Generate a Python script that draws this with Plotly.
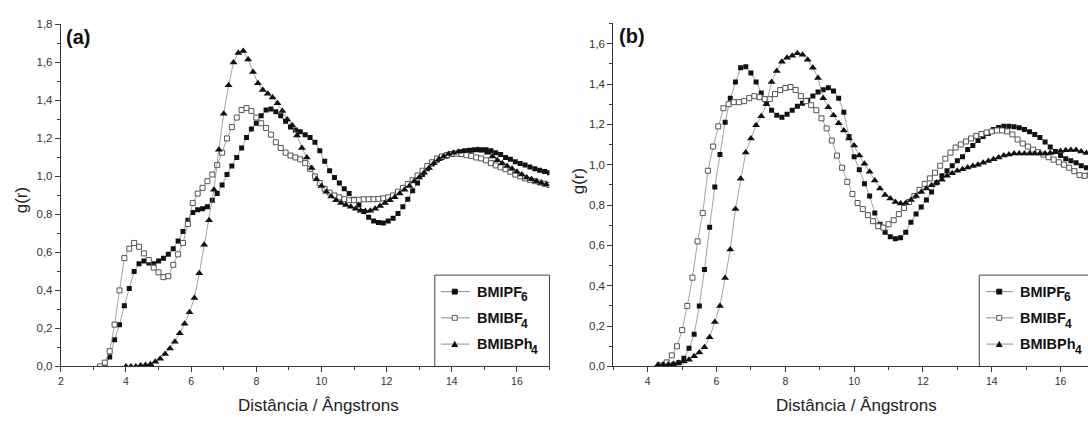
import numpy as np
import plotly.graph_objects as go

W, H = 1088, 421
STEP = 0.15  # radial sampling of the g(r) curves, in Å

# ---------------- panel (a) ----------------
a_pf6_r0 = 3.35
a_pf6 = [
    0.00, 0.05, 0.14, 0.22, 0.32, 0.41, 0.50, 0.54, 0.555, 0.545,
    0.54, 0.555, 0.57, 0.59, 0.62, 0.66, 0.71, 0.77, 0.81, 0.825,
    0.83, 0.84, 0.875, 0.91, 0.955, 1.01, 1.055, 1.10, 1.15, 1.205,
    1.25, 1.28, 1.32, 1.35, 1.355, 1.34, 1.32, 1.29, 1.26, 1.245,
    1.235, 1.22, 1.205, 1.18, 1.135, 1.08, 1.03, 0.995, 0.965, 0.935,
    0.91, 0.88, 0.85, 0.815, 0.785, 0.765, 0.757, 0.755, 0.765, 0.78,
    0.805, 0.84, 0.88, 0.925, 0.965, 1.01, 1.04, 1.065, 1.085, 1.10,
    1.108, 1.115, 1.122, 1.13, 1.135, 1.138, 1.14, 1.14, 1.14, 1.135,
    1.125, 1.115, 1.10, 1.09, 1.078, 1.068, 1.06, 1.05, 1.04, 1.033,
    1.026, 1.02,
]
a_bf4_r0 = 3.20
a_bf4 = [
    0.00, 0.02, 0.08, 0.22, 0.40, 0.57, 0.62, 0.65, 0.63, 0.595,
    0.56, 0.52, 0.495, 0.47, 0.475, 0.535, 0.59, 0.65, 0.75, 0.86,
    0.91, 0.94, 0.975, 1.01, 1.06, 1.125, 1.20, 1.26, 1.31, 1.35,
    1.36, 1.345, 1.31, 1.28, 1.255, 1.22, 1.18, 1.15, 1.125, 1.11,
    1.10, 1.09, 1.07, 1.04, 1.00, 0.965, 0.935, 0.915, 0.90, 0.89,
    0.88, 0.875, 0.875, 0.877, 0.88, 0.88, 0.88, 0.882, 0.885, 0.89,
    0.90, 0.92, 0.94, 0.96, 0.98, 1.005, 1.03, 1.055, 1.075, 1.095,
    1.105, 1.113, 1.118, 1.12, 1.118, 1.112, 1.108, 1.10, 1.095, 1.085,
    1.07, 1.058, 1.048, 1.038, 1.025, 1.01, 1.0, 0.99, 0.982, 0.975,
    0.968, 0.962, 0.955,
]
a_ph4_r0 = 4.00
a_ph4 = [
    0.0, 0.0, 0.0, 0.005, 0.008, 0.012, 0.025, 0.04, 0.065, 0.095,
    0.13, 0.175, 0.225, 0.285, 0.36, 0.49, 0.64, 0.77, 0.93, 1.14,
    1.33, 1.48, 1.60, 1.65, 1.66, 1.615, 1.55, 1.49, 1.455, 1.435,
    1.415, 1.385, 1.345, 1.30, 1.27, 1.215, 1.15, 1.10, 1.045, 0.985,
    0.95, 0.92, 0.895, 0.875, 0.86, 0.85, 0.84, 0.83, 0.82, 0.818,
    0.82, 0.83, 0.845, 0.86, 0.875, 0.89, 0.91, 0.93, 0.95, 0.975,
    0.995, 1.02, 1.045, 1.07, 1.09, 1.105, 1.118, 1.125, 1.13, 1.133,
    1.135, 1.138, 1.14, 1.135, 1.125, 1.105, 1.085, 1.07, 1.055, 1.04,
    1.025, 1.01, 0.995, 0.985, 0.975, 0.965, 0.958,
]

# ---------------- panel (b) ----------------
b_pf6_r0 = 4.60
b_pf6 = [
    0.003, 0.008, 0.018, 0.04, 0.09, 0.16, 0.30, 0.48, 0.69, 0.89,
    1.05, 1.21, 1.33, 1.41, 1.48, 1.485, 1.455, 1.41, 1.355, 1.305,
    1.27, 1.245, 1.235, 1.25, 1.27, 1.29, 1.305, 1.32, 1.34, 1.36,
    1.372, 1.382, 1.365, 1.33, 1.26, 1.14, 1.04, 0.975, 0.905, 0.845,
    0.76, 0.705, 0.665, 0.643, 0.633, 0.638, 0.665, 0.715, 0.755, 0.79,
    0.825, 0.865, 0.91, 0.945, 0.97, 0.995, 1.02, 1.04, 1.075, 1.095,
    1.12, 1.14, 1.155, 1.175, 1.185, 1.19, 1.19, 1.188, 1.183, 1.175,
    1.163, 1.15, 1.135, 1.113, 1.088, 1.065, 1.045, 1.03, 1.02, 1.01,
    0.995, 0.985, 0.975,
]
b_bf4_r0 = 4.40
b_bf4 = [
    0.005, 0.02, 0.055, 0.10, 0.18, 0.30, 0.44, 0.62, 0.76, 0.97,
    1.09, 1.19, 1.28, 1.30, 1.31, 1.31, 1.315, 1.33, 1.34, 1.335,
    1.325, 1.325, 1.35, 1.37, 1.38, 1.385, 1.37, 1.34, 1.315, 1.295,
    1.27, 1.23, 1.18, 1.12, 1.045, 0.985, 0.915, 0.855, 0.81, 0.78,
    0.75, 0.72, 0.695, 0.688, 0.705, 0.725, 0.755, 0.785, 0.815, 0.845,
    0.875, 0.905, 0.932, 0.96, 0.995, 1.03, 1.06, 1.085, 1.10, 1.115,
    1.13, 1.143, 1.152, 1.16, 1.165, 1.17, 1.17, 1.165, 1.15, 1.125,
    1.105, 1.09, 1.075, 1.062, 1.05, 1.037, 1.025, 1.012, 1.0, 0.985,
    0.968, 0.948, 0.945, 0.95,
]
b_ph4_r0 = 4.30
b_ph4 = [
    0.008, 0.01, 0.01, 0.013, 0.018, 0.024, 0.033, 0.05, 0.069, 0.095,
    0.145, 0.22, 0.30, 0.438, 0.58, 0.78, 0.93, 1.06, 1.13, 1.195,
    1.24, 1.30, 1.41, 1.465, 1.51, 1.53, 1.54, 1.552, 1.545, 1.52,
    1.48, 1.43, 1.33, 1.285, 1.245, 1.205, 1.17, 1.13, 1.095, 1.045,
    1.005, 0.965, 0.922, 0.882, 0.85, 0.832, 0.815, 0.808, 0.81, 0.825,
    0.845, 0.865, 0.882, 0.898, 0.912, 0.925, 0.945, 0.958, 0.97, 0.978,
    0.986, 0.993, 1.0, 1.01, 1.018, 1.027, 1.036, 1.045, 1.05, 1.055,
    1.056, 1.056, 1.056, 1.056, 1.056, 1.056, 1.058, 1.063, 1.068, 1.072,
    1.073, 1.073, 1.066, 1.058, 1.05,
]

# legend labels: base formula and subscript
series_base = ["BMIPF", "BMIBF", "BMIBPh"]
series_sub = ["6", "4", "4"]
x_title = "Distância / Ângstrons"
y_title = "g(r)"
panel_tags = ["(a)", "(b)"]

FONT = "Liberation Sans, Arial, sans-serif"
INK = "#222222"
AXIS = "#3a3a3a"
LINK = "#8c8c8c"

marker_styles = [
    dict(symbol="square", size=5, color="#111111", line=dict(width=0)),
    dict(symbol="square", size=5, color="white", line=dict(color="#555555", width=1)),
    dict(symbol="triangle-up", size=7, color="#111111", line=dict(width=0)),
]


def r_grid(r0, values):
    return np.round(r0 + STEP * np.arange(len(values)), 3)


panels = [
    ("x", "y", [(a_pf6_r0, a_pf6), (a_bf4_r0, a_bf4), (a_ph4_r0, a_ph4)]),
    ("x2", "y2", [(b_pf6_r0, b_pf6), (b_bf4_r0, b_bf4), (b_ph4_r0, b_ph4)]),
]

fig = go.Figure()
for xa, ya, data in panels:
    for (r0, vals), mstyle, base, sub in zip(data, marker_styles, series_base, series_sub):
        fig.add_trace(go.Scatter(
            x=r_grid(r0, vals), y=vals, xaxis=xa, yaxis=ya,
            mode="lines+markers", name=base + sub, showlegend=False,
            line=dict(color=LINK, width=0.8), marker=mstyle,
        ))


# pixel helpers for paper-positioned decorations
def px(x):
    return x / W


def py(y):
    return 1 - y / H


axis_common = dict(
    showline=True, linecolor=AXIS, linewidth=1, mirror=False,
    ticks="outside", ticklen=5, tickwidth=1, tickcolor=AXIS,
    showgrid=False, zeroline=False,
)
xtick_font = dict(family=FONT, size=10.5, color="#333333")
ytick_font = dict(family=FONT, size=11.5, color="#333333")

fig.update_layout(
    width=W, height=H,
    margin=dict(l=0, r=0, t=0, b=0),
    paper_bgcolor="white", plot_bgcolor="white",
    separators=",.",
    font=dict(family=FONT, color=INK),
    xaxis=dict(domain=[px(58), px(548)], range=[2, 17], tick0=2, dtick=2,
               minor=dict(ticks="outside", ticklen=3, tickcolor=AXIS, dtick=1),
               tickfont=xtick_font, anchor="y", **axis_common),
    yaxis=dict(domain=[py(371), py(19)], range=[0, 1.8], tick0=0, dtick=0.2,
               tickformat=".1f",
               minor=dict(ticks="outside", ticklen=3, tickcolor=AXIS, dtick=0.1),
               tickfont=ytick_font, anchor="x", **axis_common),
    xaxis2=dict(domain=[px(612), 1.0], range=[3, 3 + (W - 612) / 34.5], tick0=0, dtick=2,
                minor=dict(ticks="outside", ticklen=3, tickcolor=AXIS, dtick=1),
                tickfont=xtick_font, anchor="y2", **axis_common),
    yaxis2=dict(domain=[py(371), py(18)], range=[0, 1.7], tick0=0, dtick=0.2,
                tickformat=".1f",
                minor=dict(ticks="outside", ticklen=3, tickcolor=AXIS, dtick=0.1),
                tickfont=ytick_font, anchor="x2", **axis_common),
)

annotations = []
shapes = []

# axis titles and panel tags
for cx, cy in [(316, 411), (856, 411)]:
    annotations.append(dict(x=px(cx), y=py(cy), xref="paper", yref="paper", text=x_title,
                            showarrow=False, xanchor="center", yanchor="middle",
                            font=dict(family=FONT, size=17, color=INK)))
for cx, cy in [(18, 200), (577, 180)]:
    annotations.append(dict(x=px(cx), y=py(cy), xref="paper", yref="paper", text=y_title,
                            textangle=-90, showarrow=False, xanchor="center", yanchor="middle",
                            font=dict(family=FONT, size=17, color=INK)))
for tag, lx, ly in [(panel_tags[0], 61, 32), (panel_tags[1], 616, 31)]:
    annotations.append(dict(x=px(lx), y=py(ly), xref="paper", yref="paper",
                            text="<b>" + tag + "</b>", showarrow=False,
                            xanchor="left", yanchor="middle",
                            font=dict(family=FONT, size=20, color="#111111")))

# framed legends inside each panel
legend_boxes = [
    dict(box=(433, 277, 548, 371), line=(439, 468), mark=453, text=473),
    dict(box=(979, 277, 1100, 371), line=(986, 1013), mark=999, text=1018),
]
row_y = [294, 321, 348]
# approximate advance widths (em) of Arial Bold glyphs used in the legend
bold_em = {"B": 0.722, "M": 0.833, "I": 0.278, "P": 0.667, "F": 0.611, "h": 0.611}
LEG_SIZE = 14.5
SUB_SIZE = 12
for lg in legend_boxes:
    x0, y0, x1, y1 = lg["box"]
    shapes.append(dict(type="rect", xref="paper", yref="paper",
                       x0=px(x0), y0=py(y1), x1=px(x1), y1=py(y0),
                       line=dict(color="#444444", width=1), fillcolor="white", layer="below"))
    for k, (ry, base, sub) in enumerate(zip(row_y, series_base, series_sub)):
        shapes.append(dict(type="line", xref="paper", yref="paper",
                           x0=px(lg["line"][0]), x1=px(lg["line"][1]), y0=py(ry), y1=py(ry),
                           line=dict(color=LINK, width=1)))
        mx = lg["mark"]
        if k == 2:
            path = "M {} {} L {} {} L {} {} Z".format(
                px(mx - 3.5), py(ry + 3), px(mx + 3.5), py(ry + 3), px(mx), py(ry - 3.5))
            shapes.append(dict(type="path", xref="paper", yref="paper", path=path,
                               fillcolor="#111111", line=dict(width=0)))
        else:
            filled = k == 0
            shapes.append(dict(type="rect", xref="paper", yref="paper",
                               x0=px(mx - 2.5), x1=px(mx + 2.5), y0=py(ry + 2.5), y1=py(ry - 2.5),
                               fillcolor="#111111" if filled else "white",
                               line=dict(color="#111111" if filled else "#555555", width=1)))
        tx = lg["text"]
        annotations.append(dict(x=px(tx), y=py(ry), xref="paper", yref="paper",
                                text="<b>" + base + "</b>", showarrow=False,
                                xanchor="left", yanchor="middle",
                                font=dict(family=FONT, size=LEG_SIZE, color="#111111")))
        base_w = sum(bold_em[c] for c in base) * LEG_SIZE
        annotations.append(dict(x=px(tx + base_w - 1), y=py(ry + 6), xref="paper", yref="paper",
                                text="<b>" + sub + "</b>", showarrow=False,
                                xanchor="left", yanchor="middle",
                                font=dict(family=FONT, size=SUB_SIZE, color="#111111")))

fig.update_layout(annotations=annotations, shapes=shapes)
fig.write_html("out.html")
